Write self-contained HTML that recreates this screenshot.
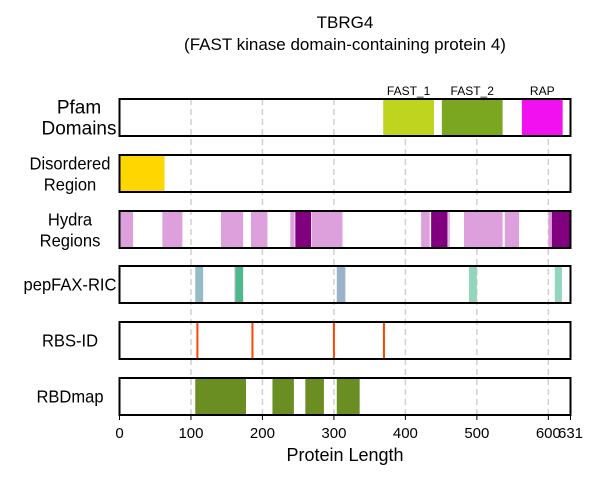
<!DOCTYPE html>
<html><head><meta charset="utf-8"><style>
body{margin:0;background:#fff;}
svg{font-family:"Liberation Sans",Arial,sans-serif;}
</style></head><body>
<svg id="chart" width="600" height="480" xmlns="http://www.w3.org/2000/svg">
<text x="345" y="28" font-size="17" text-anchor="middle">TBRG4</text>
<text x="345" y="50" font-size="17" text-anchor="middle">(FAST kinase domain-containing protein 4)</text>
<g id="grid"></g>
<g id="marks"></g>
<g id="frames"></g>
<g id="labels"></g>
<g id="xaxis"></g>
<text x="345" y="461" font-size="18" text-anchor="middle">Protein Length</text>
</svg>
<script>
const rowNames = ["Pfam\nDomains","Disordered\nRegion","Hydra\nRegions","pepFAX-RIC","RBS-ID","RBDmap"];
const xTicks = [0,100,200,300,400,500,600,631];
const pfamDomains = [["FAST_1",369,440,"#bfd41e"],["FAST_2",451,536,"#7aa620"],["RAP",563,620,"#f010f0"]];
const disordered = [[0,63,"#ffd700"]];
const hydra = [[0,19,"#dda0dd"],[60,88,"#dda0dd"],[142,173,"#dda0dd"],[184,207,"#dda0dd"],[239,245,"#dda0dd"],[246,268,"#800080"],[269,312,"#dda0dd"],[422,434,"#dda0dd"],[436,459,"#800080"],[460,462,"#dda0dd"],[482,536,"#dda0dd"],[539,559,"#dda0dd"],[600,605,"#dda0dd"],[605,631,"#800080"]];
const pepfax = [[106,117,"#93bcc6"],[161,164,"#8fb0c0"],[163,173,"#4db88a"],[304,316,"#9bb3c9"],[489,500,"#93d6bd"],[609,619,"#93d6bd"]];
const rbsSites = [109,186,300,370];
const rbdmap = [[106,177],[214,244],[260,286],[304,336]];
const LEN=631;
const X0=119.5, X1=570.5;
const x = v => X0 + v/LEN*(X1-X0);
const rowTop = [99,155,211,266,322,378], rowH=37;
const NS="http://www.w3.org/2000/svg";
function mk(tag, attrs, parent){const e=document.createElementNS(NS,tag);for(const k in attrs)e.setAttribute(k,attrs[k]);document.getElementById(parent).appendChild(e);return e;}
xTicks.slice(1,7).forEach(t=>{
  const l=mk("line",{x1:x(t),x2:x(t),y1:99,y2:416,stroke:"#d0d0d0","stroke-width":1.5,"stroke-dasharray":"6,4"},"grid");
  
  
});
function seg(s,e,row,color,name){
  const r=mk("rect",{x:x(s),y:rowTop[row],width:x(e)-x(s),height:rowH,fill:color},"marks");
  
  
}
pfamDomains.forEach(d=>{
  seg(d[1],d[2],0,d[3],'pfam-domain');
  const t=mk("text",{x:(x(d[1])+x(d[2]))/2,y:95,"font-size":12,"text-anchor":"middle"},"marks");
  t.textContent=d[0];
  
  
});
disordered.forEach(d=>seg(d[0],d[1],1,d[2],'disordered-region'));
hydra.forEach(d=>seg(d[0],d[1],2,d[2],'hydra-region'));
pepfax.forEach(d=>seg(d[0],d[1],3,d[2],'pepfax-region'));
rbdmap.forEach(d=>seg(d[0],d[1],5,"#6b8e23",'rbdmap-region'));
rbsSites.forEach(s=>{
  const l=mk("line",{x1:x(s),x2:x(s),y1:rowTop[4],y2:rowTop[4]+rowH,stroke:"#ff4500","stroke-width":2},"marks");
  
  
});
rowTop.forEach((y,i)=>{
  const r=mk("rect",{x:X0,y:y,width:X1-X0,height:rowH,fill:"none",stroke:"#000","stroke-width":2},"frames");
  
  
  const lines=rowNames[i].split("\n");
  const fs=i==0?19:18;
  const cx=i==0?79:70;
  const g=mk("g",{transform:i==0?`translate(${cx},0)`:`translate(${cx},0) scale(0.92,1)`},"labels");
  
  
  const t=mk("text",{x:0,"font-size":fs,"text-anchor":"middle"},"labels");
  g.appendChild(t);
  
  
  lines.forEach((s,j)=>{
    const sp=document.createElementNS(NS,"tspan");
    sp.setAttribute("x",0);
    const cy=y+rowH/2+6;
    sp.setAttribute("y", lines.length==1?cy:cy-10+j*21);
    sp.textContent=s;t.appendChild(sp);
  });
});
xTicks.forEach(t=>{
  const l=mk("line",{x1:x(t),x2:x(t),y1:415,y2:420,stroke:"#000","stroke-width":1},"xaxis");
  
  
  const tx=mk("text",{x:x(t),y:438,"font-size":15,"text-anchor":"middle"},"xaxis");
  tx.textContent=t;
  
  
});
</script>
</body></html>
